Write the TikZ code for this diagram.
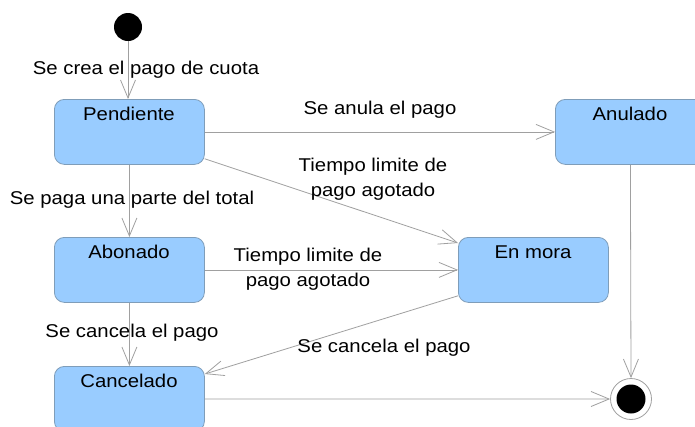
\documentclass[tikz,border=0pt]{standalone}
\usepackage{fontspec}
\setmainfont{Liberation Sans}
\usetikzlibrary{arrows.meta}
\definecolor{boxfill}{HTML}{99CCFF}
\definecolor{boxline}{HTML}{7F9DB9}
\definecolor{edgecol}{HTML}{A0A0A0}
\begin{document}
\begin{tikzpicture}[x=1pt,y=-1pt,
  statebox/.style={draw=boxline,fill=boxfill,rounded corners=10pt,line width=0.8pt,
    minimum width=150pt,minimum height=65pt,inner sep=0pt,anchor=north west},
  stname/.style={font=\fontsize{18.5}{24}\selectfont,xscale=1.1,inner sep=0pt,anchor=base},
  lbl/.style={font=\fontsize{18.5}{24.5}\selectfont,xscale=1.1,inner sep=0pt,align=center},
  trans/.style={draw=edgecol,line width=0.8pt,-{Straight Barb[length=18pt,width=15pt]}}]
\useasboundingbox (0,0) rectangle (695,426);
\fill[white] (0,0) rectangle (695,426);
% states
\node[statebox] (P) at (54,99) {};
\node[statebox] (A) at (555,99) {};
\node[statebox] (B) at (54,237) {};
\node[statebox] (M) at (458,237) {};
\node[statebox] (C) at (54,366) {};
\node[stname] (Pn) at (129,120) {Pendiente};
\node[stname] (An) at (630,120) {Anulado};
\node[stname] (Bn) at (129,258) {Abonado};
\node[stname] (Mn) at (533,258) {En mora};
\node[stname] (Cn) at (129,387) {Cancelado};
% initial and final
\node[circle,fill=black,minimum size=28pt,inner sep=0pt] (I) at (128,27) {};
\node[circle,draw=edgecol,fill=white,line width=0.8pt,minimum size=41pt,inner sep=0pt] (F) at (631,399) {};
\node[circle,fill=black,minimum size=29pt,inner sep=0pt] (Fi) at (631,399) {};
% transitions
\draw[trans] (I) -- (P.north -| I);
\draw[trans] (P.east) -- (A.west);
\draw[trans] ([yshift=6pt]P.south east) -- ([yshift=-6pt]M.north west);
\draw[trans] (P.south) -- (B.north);
\draw[trans] (B.east) -- (M.west);
\draw[trans] (B.south) -- (C.north);
\draw[trans] ([yshift=7pt]M.south west) -- ([yshift=-8pt]C.north east);
\draw[trans] (A.south) -- (F.north);
\draw[trans] (C.east) -- (F.west);
% labels
\node[lbl] (l1) at (146,70) {Se crea el pago de cuota};
\node[lbl] (l2) at (380,110) {Se anula el pago};
\node[lbl] (l3) at (373,179) {Tiempo limite de\\pago agotado};
\node[lbl] (l4) at (132,200) {Se paga una parte del total};
\node[lbl] (l5) at (308,269) {Tiempo limite de\\pago agotado};
\node[lbl] (l6) at (132,333) {Se cancela el pago};
\node[lbl] (l7) at (384,348) {Se cancela el pago};
\end{tikzpicture}
\end{document}
